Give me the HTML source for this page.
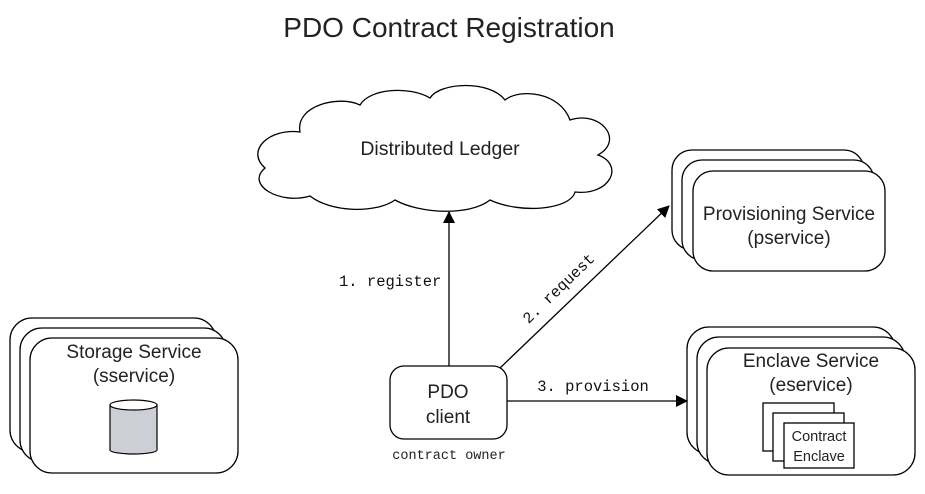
<!DOCTYPE html>
<html><head><style>
html,body{margin:0;padding:0;background:#fff;}
svg{display:block;}
text{font-family:"Liberation Sans",sans-serif;fill:#222;}
.m{font-family:"Liberation Mono",monospace;font-size:15.5px;fill:#111;}
</style></head><body>
<svg width="925" height="494" viewBox="0 0 925 494" xmlns="http://www.w3.org/2000/svg">
<defs><marker id="a" markerWidth="12" markerHeight="12" refX="11" refY="6" orient="auto" markerUnits="userSpaceOnUse" viewBox="0 0 12 12"><path d="M0,0 L12,6 L0,12 z" fill="#000"/></marker></defs>
<text x="449" y="37" font-size="28" text-anchor="middle">PDO Contract Registration</text>

<path d="M300,132 C270,128 245,150 265,168 C245,185 280,205 310,196 C330,212 375,214 395,200 C420,214 470,216 490,200 C520,214 570,210 575,192 C610,196 625,165 598,155 C625,140 600,110 570,120 C560,92 520,88 505,100 C490,80 440,82 430,98 C410,86 370,88 360,105 C340,95 295,105 300,132 Z" fill="#fff" stroke="#000" stroke-width="1.3"/>
<text x="440" y="155" font-size="19.5" text-anchor="middle">Distributed Ledger</text>

<g fill="#fff" stroke="#000" stroke-width="1.3">
<rect x="10" y="318" width="206" height="134" rx="22"/>
<rect x="20" y="328" width="206" height="134" rx="22"/>
<rect x="30" y="338" width="208" height="135" rx="22"/>
</g>
<text x="134" y="358" font-size="19" text-anchor="middle">Storage Service</text>
<text x="134" y="382" font-size="19" text-anchor="middle">(sservice)</text>
<path d="M110,405 L110,450 A23.5,4 0 0 0 157,450 L157,405" fill="#ccd0d6" stroke="#000" stroke-width="1.2"/>
<ellipse cx="133.5" cy="405" rx="23.5" ry="5" fill="#fff" stroke="#000" stroke-width="1.2"/>

<g fill="#fff" stroke="#000" stroke-width="1.3">
<rect x="672" y="150" width="192" height="100" rx="20"/>
<rect x="682" y="160" width="192" height="100" rx="20"/>
<rect x="693" y="171" width="192" height="100" rx="20"/>
</g>
<text x="789" y="220" font-size="19" text-anchor="middle">Provisioning Service</text>
<text x="789" y="244" font-size="19" text-anchor="middle">(pservice)</text>

<g fill="#fff" stroke="#000" stroke-width="1.3">
<rect x="687" y="327" width="208" height="127" rx="22"/>
<rect x="697" y="337" width="208" height="127" rx="22"/>
<rect x="707" y="348" width="208" height="127" rx="22"/>
<rect x="763" y="403" width="71" height="48"/>
<rect x="773" y="413" width="71" height="48"/>
<rect x="784" y="423" width="70" height="45"/>
</g>
<text x="811" y="367" font-size="19" text-anchor="middle">Enclave Service</text>
<text x="811" y="391" font-size="19" text-anchor="middle">(eservice)</text>
<text x="819" y="441" font-size="14.5" text-anchor="middle">Contract</text>
<text x="819" y="461" font-size="14.5" text-anchor="middle">Enclave</text>

<rect x="390" y="366" width="117" height="73" rx="14" fill="#fff" stroke="#000" stroke-width="1.3"/>
<text x="448" y="398" font-size="19" text-anchor="middle">PDO</text>
<text x="448" y="423" font-size="19" text-anchor="middle">client</text>
<text x="449" y="459" font-size="13.5" text-anchor="middle" style="font-family:'Liberation Mono',monospace">contract owner</text>

<g stroke="#000" stroke-width="1.3" fill="none">
<line x1="449" y1="366" x2="449" y2="212" marker-end="url(#a)"/>
<line x1="500" y1="368" x2="669" y2="206" marker-end="url(#a)"/>
<line x1="507" y1="401" x2="687" y2="401" marker-end="url(#a)"/>
</g>
<text class="m" x="339" y="286">1. register</text>
<text class="m" x="593" y="391" text-anchor="middle">3. provision</text>
<text class="m" x="0" y="0" text-anchor="middle" transform="translate(562,292) rotate(-44)">2. request</text>
</svg>
</body></html>
